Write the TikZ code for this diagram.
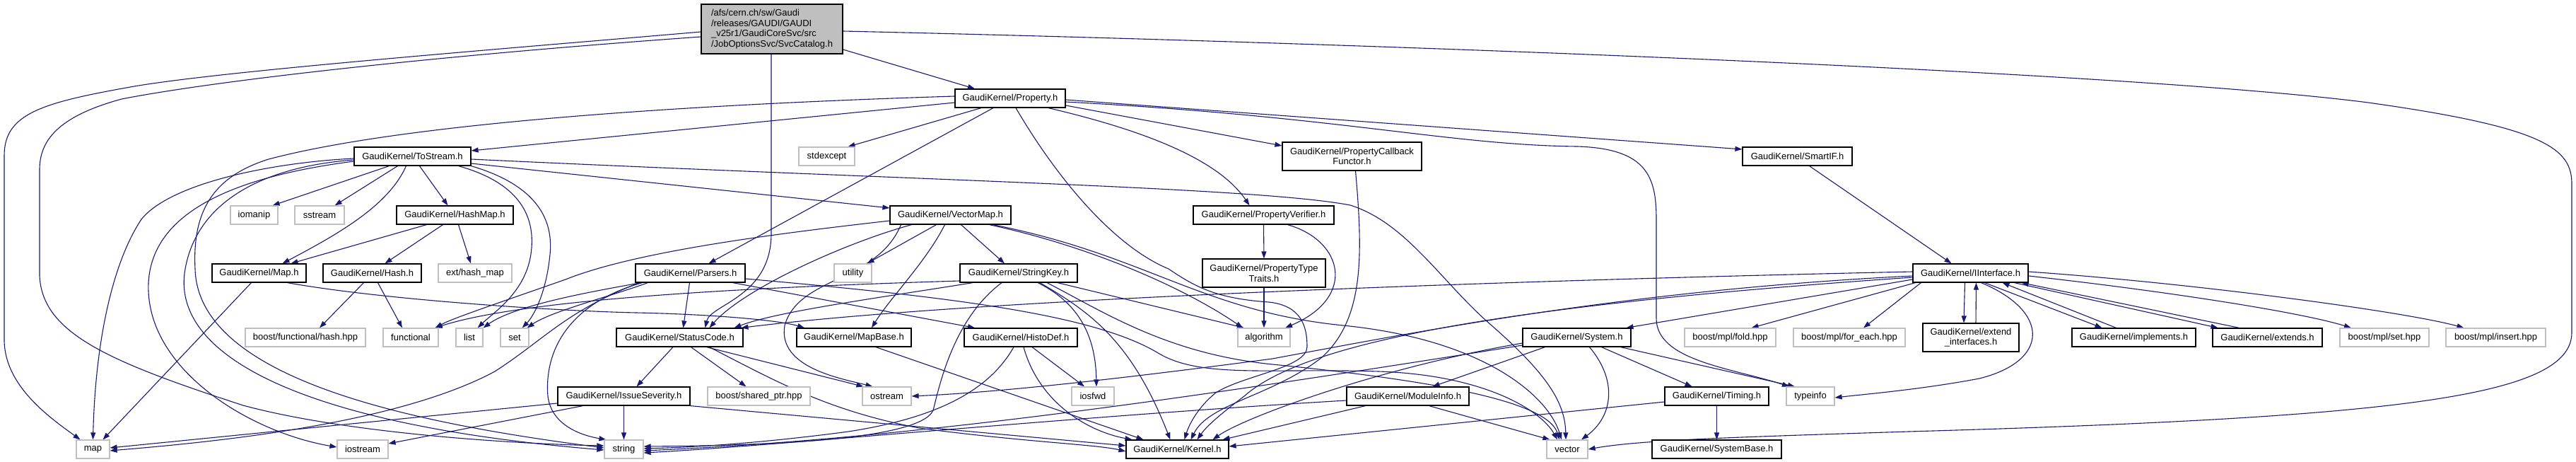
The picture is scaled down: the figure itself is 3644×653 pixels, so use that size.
\documentclass[tikz,border=0pt]{standalone}
\usepackage{fontspec}
\setmainfont{Liberation Sans}
\usetikzlibrary{arrows.meta}
\pgfdeclarelayer{bg}
\pgfsetlayers{bg,main}
\definecolor{edgec}{HTML}{191970}
\definecolor{extc}{HTML}{BFBFBF}
\begin{document}
\begin{tikzpicture}[x=1pt,y=-1pt,
  every node/.style={font=\fontsize{13}{14.7}\selectfont},
  dn/.style={draw=black,line width=1.2pt,fill=white,inner sep=0pt,minimum height=26pt,align=center},
  xn/.style={draw=extc,line width=1.2pt,fill=white,inner sep=0pt,minimum height=26pt,align=center},
  ar/.style={draw=edgec,line width=1.1pt,-{Triangle[length=10pt,width=7pt]}}
]
\useasboundingbox (0,0) rectangle (3644,653);

% ---- nodes ----
\node[dn,fill=extc,minimum width=200pt,minimum height=70pt,align=left] (cat) at (1092,41) {/afs/cern.ch/sw/Gaudi\\/releases/GAUDI/GAUDI\\\_v25r1/GaudiCoreSvc/src\\/JobOptionsSvc/SvcCatalog.h};
\node[dn,minimum width=156pt] (prop) at (1429,139) {GaudiKernel/Property.h};
\node[xn,minimum width=79pt] (stdexcept) at (1169.5,221) {stdexcept};
\node[dn,minimum width=165pt] (tostream) at (583.5,221) {GaudiKernel/ToStream.h};
\node[dn,minimum width=197pt,minimum height=40pt] (callback) at (1912.5,221) {GaudiKernel/PropertyCallback\\Functor.h};
\node[dn,minimum width=155pt] (smartif) at (2542.5,221) {GaudiKernel/SmartIF.h};
\node[xn,minimum width=67pt] (iomanip) at (359.5,304) {iomanip};
\node[xn,minimum width=70pt] (sstream) at (452,304) {sstream};
\node[dn,minimum width=165pt] (hashmap) at (643.5,304) {GaudiKernel/HashMap.h};
\node[dn,minimum width=171pt] (vectormap) at (1344.5,304) {GaudiKernel/VectorMap.h};
\node[dn,minimum width=199pt] (verifier) at (1787.5,304) {GaudiKernel/PropertyVerifier.h};
\node[dn,minimum width=133pt] (maph) at (366.5,386) {GaudiKernel/Map.h};
\node[dn,minimum width=139pt] (hashh) at (526.5,386) {GaudiKernel/Hash.h};
\node[xn,minimum width=104pt] (exthash) at (672,386) {ext/hash\_map};
\node[dn,minimum width=155pt] (parsers) at (976.5,386) {GaudiKernel/Parsers.h};
\node[xn,minimum width=53pt] (utility) at (1206.5,386) {utility};
\node[dn,minimum width=166pt] (stringkey) at (1441,386) {GaudiKernel/StringKey.h};
\node[dn,minimum width=174pt,minimum height=40pt] (traits) at (1788,386) {GaudiKernel/PropertyType\\Traits.h};
\node[dn,minimum width=163pt] (iinterface) at (2787.5,386) {GaudiKernel/IInterface.h};
\node[xn,minimum width=170pt] (bfh) at (432,477) {boost/functional/hash.hpp};
\node[xn,minimum width=78pt] (functional) at (581,477) {functional};
\node[xn,minimum width=38pt] (list) at (664,477) {list};
\node[xn,minimum width=40pt] (set) at (728,477) {set};
\node[dn,minimum width=179pt] (statuscode) at (961.5,477) {GaudiKernel/StatusCode.h};
\node[dn,minimum width=162pt] (mapbase) at (1208,477) {GaudiKernel/MapBase.h};
\node[dn,minimum width=160pt] (histodef) at (1444,477) {GaudiKernel/HistoDef.h};
\node[xn,minimum width=74pt] (algorithm) at (1788,477) {algorithm};
\node[dn,minimum width=153pt] (system) at (2230.5,477) {GaudiKernel/System.h};
\node[xn,minimum width=129pt] (fold) at (2447.5,477) {boost/mpl/fold.hpp};
\node[xn,minimum width=158pt] (foreach) at (2616,477) {boost/mpl/for\_each.hpp};
\node[dn,minimum width=136pt,minimum height=40pt] (extint) at (2788,477) {GaudiKernel/extend\\\_interfaces.h};
\node[dn,minimum width=175pt] (implements) at (3018.5,477) {GaudiKernel/implements.h};
\node[dn,minimum width=155pt] (extends) at (3207.5,477) {GaudiKernel/extends.h};
\node[xn,minimum width=126pt] (mplset) at (3373,477) {boost/mpl/set.hpp};
\node[xn,minimum width=141pt] (mplinsert) at (3530.5,477) {boost/mpl/insert.hpp};
\node[dn,minimum width=187pt] (issue) at (882.5,560) {GaudiKernel/IssueSeverity.h};
\node[xn,minimum width=145pt] (bsp) at (1073.5,560) {boost/shared\_ptr.hpp};
\node[xn,minimum width=69pt] (ostream) at (1254.5,560) {ostream};
\node[xn,minimum width=60pt] (iosfwd) at (1546,560) {iosfwd};
\node[dn,minimum width=173pt] (moduleinfo) at (1991.5,560) {GaudiKernel/ModuleInfo.h};
\node[dn,minimum width=147pt] (timing) at (2428.5,560) {GaudiKernel/Timing.h};
\node[xn,minimum width=68pt] (typeinfo) at (2561,560) {typeinfo};
\node[xn,minimum width=47pt] (map) at (131.5,635) {map};
\node[xn,minimum width=72pt] (iostream) at (513,635) {iostream};
\node[xn,minimum width=55pt] (string) at (882.5,635) {string};
\node[dn,minimum width=145pt] (kernel) at (1665.5,635) {GaudiKernel/Kernel.h};
\node[xn,minimum width=58pt] (vector) at (2217,635) {vector};
\node[dn,minimum width=183pt] (systembase) at (2428.5,635) {GaudiKernel/SystemBase.h};

% ---- edges ----
\begin{pgfonlayer}{bg}
\fill[white] (0,0) rectangle (3644,653);
% SvcCatalog
\draw[ar] ([yshift=-4pt]cat.west) .. controls (700,70) and (320,100) .. (190,122) .. controls (60,145) and (6,160) .. (6,220) -- (6,480) .. controls (6,545) and (70,590) .. ([xshift=-18pt]map.north);
\draw[ar] ([yshift=-11pt]cat.west) .. controls (600,80) and (300,115) .. (172,140) .. controls (80,165) and (56,200) .. (56,240) -- (56,390) .. controls (60,470) and (150,510) .. (344,573) .. controls (500,615) and (750,628) .. ([yshift=5pt]string.west);
\draw[ar] ([yshift=-3pt]cat.east) .. controls (1900,60) and (3000,100) .. (3350,145) .. controls (3600,180) and (3638,210) .. (3638,260) -- (3638,470) .. controls (3638,560) and (3400,590) .. (2700,610) .. controls (2450,618) and (2320,622) .. (vector.east);
\draw[ar] ([yshift=-29pt]cat.east) -- ([xshift=-50pt]prop.north);
\draw[ar] ([xshift=-1pt]cat.south) -- (1091,330) .. controls (1091,420) and (1005,430) .. ([xshift=36pt]statuscode.north);
% Property
\draw[ar] ([yshift=-6pt]prop.west) -- ([yshift=8pt]tostream.east);
\draw[ar] ([yshift=3pt]prop.west) .. controls (900,150) and (550,180) .. (380,225) .. controls (300,250) and (272,300) .. (276,380) .. controls (280,540) and (600,600) .. ([yshift=2pt]string.west);
\draw[ar] ([xshift=-41pt]prop.south) -- ([xshift=30pt]stdexcept.north);
\draw[ar] ([xshift=-24pt]prop.south) -- ([xshift=26pt]parsers.north);
\draw[ar] ([xshift=8pt]prop.south) .. controls (1500,260) and (1580,350) .. (1653,380) .. controls (1690,405) and (1720,422) .. (1795,427) .. controls (1840,432) and (1849,460) .. (1849,490) .. controls (1849,520) and (1760,530) .. (1720,555) .. controls (1695,575) and (1682,600) .. ([xshift=10pt]kernel.north);
\draw[ar] ([xshift=54pt]prop.south) .. controls (1600,180) and (1720,220) .. ([xshift=-20pt]verifier.north);
\draw[ar] ([yshift=-10pt]prop.east) -- ([yshift=15pt]callback.west);
\draw[ar] ([yshift=-2pt]prop.east) -- ([yshift=10pt]smartif.west);
\draw[ar] ([yshift=-5pt]prop.east) .. controls (1900,165) and (2050,205) .. (2231,207) .. controls (2330,210) and (2343,250) .. (2343,310) -- (2343,450) .. controls (2343,510) and (2450,520) .. ([xshift=-30pt]typeinfo.north);
% ToStream
\draw[ar] ([xshift=-33pt]tostream.south) -- ([xshift=-8pt]iomanip.north east);
\draw[ar] ([xshift=-21pt]tostream.south) -- ([xshift=-14pt]sstream.north east);
\draw[ar] ([xshift=10pt]tostream.south) -- ([xshift=-10pt]hashmap.north);
\draw[ar] ([xshift=-9pt]tostream.south) .. controls (550,290) and (480,330) .. ([xshift=33pt]maph.north);
\draw[ar] ([yshift=-10pt]tostream.east) -- ([yshift=10pt]vectormap.west);
\draw[ar] ([yshift=-4pt]tostream.east) .. controls (1300,255) and (1780,265) .. (1910,290) .. controls (1990,315) and (2040,400) .. (2110,460) .. controls (2190,530) and (2214,570) .. ([xshift=-2pt]vector.north);
\draw[ar] ([xshift=65pt]tostream.south) .. controls (740,260) and (755,310) .. (752,350) .. controls (748,410) and (700,440) .. ([xshift=-8pt]list.north east);
\draw[ar] (tostream.south east) .. controls (770,265) and (782,320) .. (778,360) .. controls (772,420) and (752,450) .. ([xshift=-10pt]set.north east);
\draw[ar] ([yshift=-3pt]tostream.west) .. controls (380,230) and (240,260) .. (200,310) .. controls (160,370) and (135,480) .. (map.north);
\draw[ar] ([yshift=-7pt]tostream.west) .. controls (330,250) and (215,300) .. (210,400) .. controls (205,520) and (350,610) .. ([yshift=3pt]iostream.west);
\draw[ar] ([yshift=-5pt]tostream.west) .. controls (380,235) and (280,280) .. (262,380) .. controls (240,500) and (420,600) .. ([yshift=-1pt]string.west);
% HashMap, Hash, Map
\draw[ar] ([xshift=-40pt]hashmap.south) -- ([xshift=45pt]maph.north);
\draw[ar] ([xshift=-17pt]hashmap.south) -- ([xshift=18pt]hashh.north);
\draw[ar] ([xshift=5pt]hashmap.south) -- ([xshift=-6pt]exthash.north);
\draw[ar] ([xshift=-12pt]hashh.south) -- ([xshift=20pt]bfh.north);
\draw[ar] ([xshift=8pt]hashh.south) -- ([xshift=-12pt]functional.north);
\draw[ar] ([xshift=-11pt]maph.south) -- ([xshift=14pt]map.north);
\draw[ar] ([xshift=40pt]maph.south) .. controls (550,425) and (800,440) .. (900,442) .. controls (1000,444) and (1100,452) .. ([xshift=-70pt]mapbase.north);
% VectorMap
\draw[ar] ([yshift=-8pt]vectormap.west) .. controls (1100,330) and (900,355) .. (800,395) .. controls (700,430) and (640,450) .. ([xshift=-5pt]functional.north east);
\draw[ar] ([xshift=-55pt]vectormap.south) .. controls (1190,345) and (1050,410) .. ([xshift=42pt]statuscode.north);
\draw[ar] ([xshift=-20pt]vectormap.south) -- ([xshift=20pt]utility.north);
\draw[ar] ([xshift=-8pt]vectormap.south) .. controls (1310,370) and (1260,420) .. ([xshift=25pt]mapbase.north);
\draw[ar] ([xshift=15pt]vectormap.south) -- ([xshift=-20pt]stringkey.north);
\draw[ar] ([xshift=55pt]vectormap.south) .. controls (1550,350) and (1680,410) .. ([xshift=-30pt]algorithm.north);
\draw[ar] ([xshift=60pt]vectormap.south) .. controls (1620,360) and (1700,440) .. (1900,460) .. controls (2100,480) and (2190,560) .. ([xshift=-8pt]vector.north);
\draw[ar] ([xshift=-70pt]vectormap.south) .. controls (1240,400) and (1130,390) .. (1110,460) .. controls (1100,520) and (1190,535) .. ([xshift=-20pt]ostream.north);
% Parsers
\draw[ar] ([xshift=-1pt]parsers.south) -- ([xshift=5pt]statuscode.north);
\draw[ar] ([xshift=60pt]parsers.south) -- ([xshift=-65pt]histodef.north);
\draw[ar] ([xshift=-70pt]parsers.south) .. controls (850,410) and (730,430) .. (list.north east);
\draw[ar] ([xshift=-60pt]parsers.south) .. controls (860,420) and (780,440) .. ([xshift=-3pt]set.north east);
\draw[ar] ([xshift=-72pt]parsers.south) .. controls (800,440) and (770,480) .. (700,525) .. controls (560,600) and (300,625) .. ([yshift=-2pt]map.east);
\draw[ar] ([xshift=-68pt]parsers.south) .. controls (800,430) and (770,500) .. (775,560) .. controls (780,600) and (820,615) .. ([xshift=3pt]string.north west);
\draw[ar] ([yshift=-8pt]parsers.east) .. controls (1350,420) and (1550,445) .. (1640,500) .. controls (1700,535) and (1800,520) .. (1950,525) .. controls (2100,530) and (2180,580) .. ([xshift=-14pt]vector.north);
% StringKey
\draw[ar] ([yshift=-11pt]stringkey.west) .. controls (1100,405) and (750,420) .. ([xshift=-5pt]functional.north east);
\draw[ar] ([xshift=-65pt]stringkey.south) .. controls (1250,420) and (1100,440) .. ([xshift=77pt]statuscode.north);
\draw[ar] ([xshift=-24pt]stringkey.south) .. controls (1350,450) and (1330,540) .. (1320,580) .. controls (1300,625) and (1050,630) .. ([yshift=4pt]string.east);
\draw[ar] ([xshift=27pt]stringkey.south) .. controls (1530,430) and (1550,480) .. ([xshift=5pt]iosfwd.north);
\draw[ar] ([xshift=30pt]stringkey.south) .. controls (1540,440) and (1600,480) .. ([xshift=-10pt]kernel.north);
\draw[ar] ([xshift=55pt]stringkey.south) -- ([xshift=-28pt]algorithm.north);
\draw[ar] ([xshift=40pt]stringkey.south) .. controls (1560,440) and (1650,500) .. (1800,515) .. controls (2050,540) and (2190,570) .. ([xshift=-11pt]vector.north);
% HistoDef, MapBase
\draw[ar] ([xshift=-10pt]histodef.south) .. controls (1400,550) and (1330,590) .. (1200,610) .. controls (1050,630) and (950,633) .. ([yshift=1pt]string.east);
\draw[ar] ([xshift=4pt]histodef.south) .. controls (1470,570) and (1540,610) .. ([xshift=-64pt]kernel.north);
\draw[ar] ([xshift=16pt]histodef.south) -- ([xshift=-12pt]iosfwd.north);
\draw[ar] ([xshift=31pt]mapbase.south) -- ([xshift=-48pt]kernel.north);
% StatusCode, IssueSeverity
\draw[ar] ([xshift=-9.5pt]statuscode.south) -- ([xshift=18pt]issue.north);
\draw[ar] ([xshift=16pt]statuscode.south) -- ([xshift=-18pt]bsp.north);
\draw[ar] ([xshift=38pt]statuscode.south) -- ([xshift=-33pt]ostream.north);
\draw[ar] ([xshift=42pt]statuscode.south) .. controls (1100,540) and (1170,580) .. (1300,605) .. controls (1450,625) and (1550,628) .. ([yshift=-3pt]kernel.west);
\draw[ar] ([yshift=-10pt]issue.west) -- ([yshift=2pt]map.east);
\draw[ar] ([xshift=-58pt]issue.south) -- ([yshift=8pt]iostream.east);
\draw[ar] (issue.south) -- (string.north);
\draw[ar] (issue.south east) -- ([yshift=5pt]kernel.west);
% PropertyVerifier, Traits, Callback, SmartIF
\draw[ar] (verifier.south) -- (traits.north);
\draw[ar] ([xshift=34pt]verifier.south) .. controls (1900,340) and (1920,420) .. ([xshift=30pt]algorithm.north);
\draw[ar] (traits.south) -- (algorithm.north);
\draw[ar] ([xshift=5pt]callback.south) .. controls (1928,360) and (1930,450) .. (1870,505) .. controls (1800,560) and (1710,570) .. ([xshift=19pt]kernel.north);
\draw[ar] ([xshift=17pt]smartif.south) -- ([xshift=-27pt]iinterface.north);
% IInterface
\draw[ar] ([xshift=-8pt]iinterface.south) -- ([xshift=-10pt]extint.north);
\draw[ar] ([xshift=7pt]extint.north) -- ([xshift=8pt]iinterface.south);
\draw[ar] ([xshift=20pt]iinterface.south) -- ([xshift=-45pt]implements.north);
\draw[ar] ([xshift=-25pt]implements.north) -- ([xshift=45pt]iinterface.south);
\draw[ar] ([xshift=62pt]iinterface.south) -- ([xshift=-70pt]extends.north);
\draw[ar] ([xshift=-40pt]extends.north) -- ([xshift=-10pt]iinterface.south east);
\draw[ar] ([yshift=-4pt]iinterface.east) .. controls (3050,410) and (3250,440) .. ([xshift=-47pt]mplset.north);
\draw[ar] ([yshift=2pt]iinterface.east) .. controls (3100,400) and (3400,440) .. ([xshift=-45pt]mplinsert.north);
\draw[ar] ([xshift=15pt]iinterface.south) .. controls (2900,440) and (2900,510) .. (2800,535) .. controls (2720,550) and (2650,556) .. ([yshift=-2pt]typeinfo.east);
\draw[ar] ([xshift=-70pt]iinterface.south) -- ([xshift=20pt]foreach.north);
\draw[ar] ([xshift=-78pt]iinterface.south) -- ([xshift=30pt]fold.north);
\draw[ar] ([yshift=-9pt]iinterface.west) -- ([xshift=70pt]system.north);
\draw[ar] ([yshift=2pt]iinterface.west) .. controls (2200,395) and (1400,420) .. ([xshift=87pt]statuscode.north);
\draw[ar] ([yshift=-4pt]iinterface.west) .. controls (2300,410) and (2000,470) .. (1800,507) .. controls (1550,540) and (1400,555) .. (ostream.east);
\draw[ar] ([yshift=-6pt]iinterface.west) .. controls (2150,430) and (1850,480) .. (1760,560) .. controls (1720,590) and (1705,605) .. ([xshift=28pt]kernel.north);
% System, ModuleInfo, Timing
\draw[ar] ([xshift=-45pt]system.south) -- ([xshift=35pt]moduleinfo.north);
\draw[ar] ([xshift=35pt]system.south) -- ([xshift=-35pt]timing.north);
\draw[ar] ([xshift=62pt]system.south) -- ([xshift=-22pt]typeinfo.north);
\draw[ar] ([xshift=18pt]system.south) .. controls (2290,540) and (2280,590) .. ([xshift=20pt]vector.north);
\draw[ar] ([yshift=-8pt]system.west) .. controls (1950,520) and (1760,590) .. ([xshift=50pt]kernel.north);
\draw[ar] ([yshift=-11pt]system.west) .. controls (1700,560) and (1300,620) .. ([yshift=-2pt]string.east);
\draw[ar] ([xshift=-60pt]moduleinfo.south) -- ([xshift=64pt]kernel.north);
\draw[ar] ([xshift=30pt]moduleinfo.south) -- ([xshift=5pt]vector.north west);
\draw[ar] ([yshift=-6pt]moduleinfo.west) .. controls (1500,590) and (1100,630) .. ([yshift=-5pt]string.east);
\draw[ar] (timing.south) -- (systembase.north);
\draw[ar] ([yshift=-8pt]timing.west) -- ([yshift=4pt]kernel.east);
\end{pgfonlayer}
\end{tikzpicture}
\end{document}
